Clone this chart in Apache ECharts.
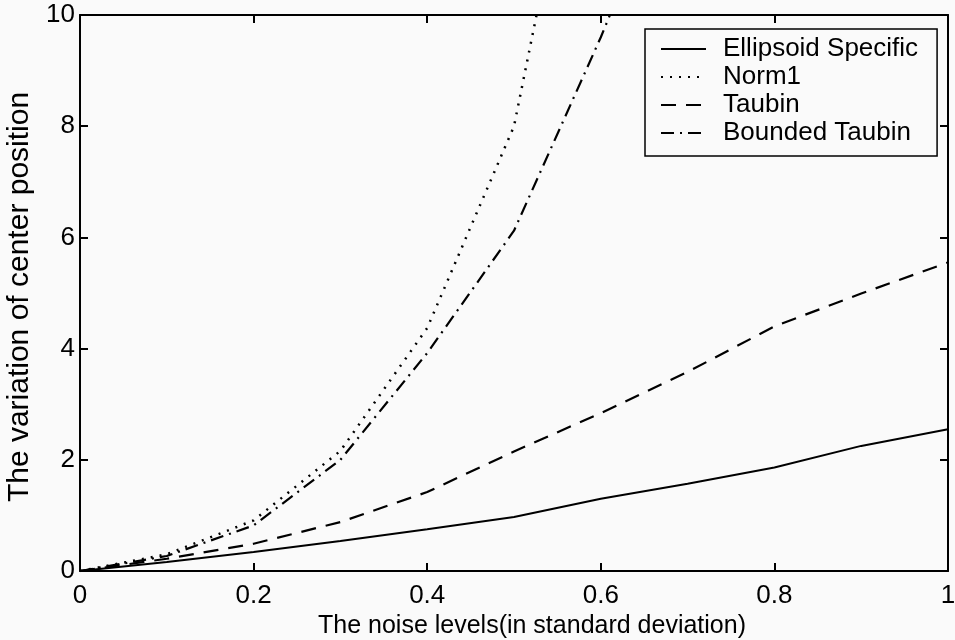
<!DOCTYPE html>
<html>
<head>
<meta charset="utf-8">
<script src="https://cdn.jsdelivr.net/npm/echarts@6/dist/echarts.min.js"></script>
<style>
html,body{margin:0;padding:0;background:#fafafa;}
#chart{width:955px;height:640px;}
</style>
</head>
<body>
<div id="chart"></div>
<script>
// Data
const noiseLevels = [0, 0.1, 0.2, 0.3, 0.4, 0.5, 0.6, 0.7, 0.8, 0.9, 1.0];
const ellipsoidSpecific = [0, 0.16, 0.34, 0.54, 0.75, 0.97, 1.30, 1.57, 1.86, 2.25, 2.55];
const norm1 = [0, 0.30, 0.91, 2.16, 4.37, 8.0, 15.7];
const taubin = [0, 0.22, 0.49, 0.88, 1.42, 2.15, 2.84, 3.58, 4.40, 4.99, 5.55];
const boundedTaubin = [0, 0.27, 0.82, 2.0, 3.92, 6.12, 9.6, 13.4];
const seriesNames = ['Ellipsoid Specific', 'Norm1', 'Taubin', 'Bounded Taubin'];
const xTicks = [0, 0.2, 0.4, 0.6, 0.8, 1];
const yTicks = [0, 2, 4, 6, 8, 10];

function pairs(vals) { return vals.map((v, i) => [noiseLevels[i], v]); }

const FONT = '"Liberation Sans", Arial, Helvetica, sans-serif';
const chart = echarts.init(document.getElementById('chart'));

const axisLine = { show: true, onZero: false, lineStyle: { color: '#000', width: 2 } };
const tickIn = { show: true, inside: true, length: 8, lineStyle: { color: '#000', width: 2 } };

function fmtX(v) { return String(Math.round(v * 10) / 10); }

chart.setOption({
  backgroundColor: '#fafafa',
  animation: false,
  grid: { left: 80, right: 7, top: 15, bottom: 69, containLabel: false, outerBoundsMode: 'none' },
  legend: {
    orient: 'vertical',
    left: 645,
    top: 29,
    padding: [6, 19, 9, 15],
    itemGap: 0,
    itemWidth: 45,
    itemHeight: 14,
    borderColor: '#000',
    borderWidth: 1.5,
    backgroundColor: '#fafafa',
    itemStyle: { opacity: 0 },
    data: seriesNames,
    textStyle: { fontFamily: FONT, fontSize: 26, color: '#000', lineHeight: 28, padding: [0, 0, 0, 12] }
  },
  xAxis: [
    {
      type: 'value', min: xTicks[0], max: xTicks[xTicks.length - 1], interval: 0.2,
      position: 'bottom',
      name: 'The noise levels(in standard deviation)',
      nameLocation: 'middle', nameGap: 36,
      nameTextStyle: { fontFamily: FONT, fontSize: 25, color: '#000', padding: [0, 0, 0, 36] },
      axisLine: axisLine, axisTick: tickIn, splitLine: { show: false },
      axisLabel: { fontFamily: FONT, fontSize: 26, color: '#000', margin: 12, formatter: fmtX }
    },
    {
      type: 'value', min: xTicks[0], max: xTicks[xTicks.length - 1], interval: 0.2,
      position: 'top',
      axisLine: axisLine, axisTick: tickIn, splitLine: { show: false },
      axisLabel: { show: false }
    }
  ],
  yAxis: [
    {
      type: 'value', min: yTicks[0], max: yTicks[yTicks.length - 1], interval: 2,
      position: 'left',
      name: 'The variation of center position',
      nameLocation: 'middle', nameGap: 41,
      nameTextStyle: { fontFamily: FONT, fontSize: 30, color: '#000', padding: [0, 8, 0, 0] },
      axisLine: axisLine, axisTick: tickIn, splitLine: { show: false },
      axisLabel: { fontFamily: FONT, fontSize: 26, color: '#000', margin: 5 }
    },
    {
      type: 'value', min: yTicks[0], max: yTicks[yTicks.length - 1], interval: 2,
      position: 'right',
      axisLine: axisLine, axisTick: tickIn, splitLine: { show: false },
      axisLabel: { show: false }
    }
  ],
  series: [
    {
      name: seriesNames[0], type: 'line', data: pairs(ellipsoidSpecific),
      symbol: 'none', clip: true,
      lineStyle: { color: '#000', width: 2, type: 'solid' }, itemStyle: { color: '#000' }
    },
    {
      name: seriesNames[1], type: 'line', data: pairs(norm1),
      symbol: 'none', clip: true,
      lineStyle: { color: '#000', width: 2.5, type: [2, 7] }, itemStyle: { color: '#000' }
    },
    {
      name: seriesNames[2], type: 'line', data: pairs(taubin),
      symbol: 'none', clip: true,
      lineStyle: { color: '#000', width: 2.2, type: [15, 10] }, itemStyle: { color: '#000' }
    },
    {
      name: seriesNames[3], type: 'line', data: pairs(boundedTaubin),
      symbol: 'none', clip: true,
      lineStyle: { color: '#000', width: 2.2, type: [13, 6, 2, 6] }, itemStyle: { color: '#000' }
    }
  ]
});
</script>
</body>
</html>
